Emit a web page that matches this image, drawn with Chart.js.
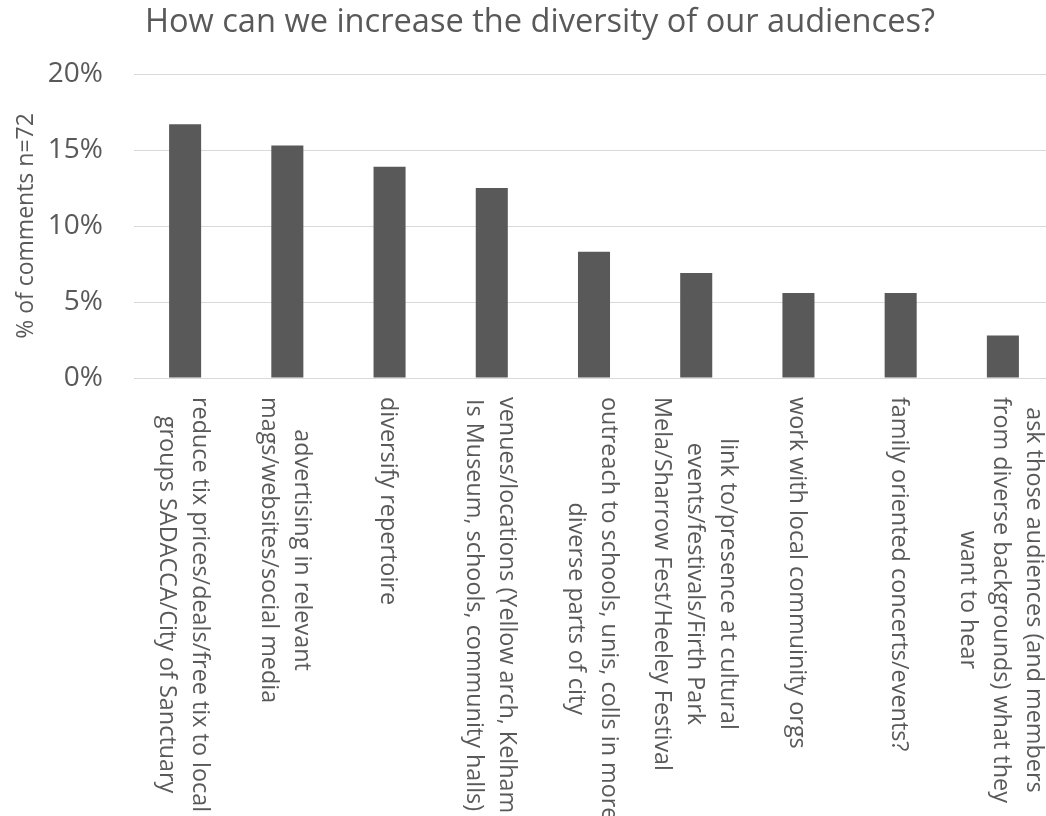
<!DOCTYPE html>
<html>
<head>
<meta charset="utf-8">
<title>How can we increase the diversity of our audiences?</title>
<script src="https://cdn.jsdelivr.net/npm/chart.js@4.4.1/dist/chart.umd.min.js"></script>
<style>
  html, body { margin: 0; padding: 0; background: #fff; overflow: hidden; }
  #wrap { width: 1060px; height: 816px; position: relative; }
</style>
</head>
<body>
<div id="wrap"><canvas id="ideas"></canvas></div>
<script>
var chartTitle = 'How can we increase the diversity of our audiences?';
var axisTitle = '% of comments n=72';

// one entry per suggestion, already broken into lines
var ideas = [
  ['reduce tix prices/deals/free tix to local', 'groups SADACCA/City of Sanctuary'],
  ['advertising in relevant', 'mags/websites/social media'],
  ['diversify repertoire'],
  ['venues/locations (Yellow arch, Kelham', 'Is Museum, schools, community halls)'],
  ['outreach to schools, unis, colls in more', 'diverse parts of city'],
  ['link to/presence at cultural', 'events/festivals/Firth Park', 'Mela/Sharrow Fest/Heeley Festival'],
  ['work with local commuinity orgs'],
  ['family oriented concerts/events?'],
  ['ask those audiences (and members', 'from diverse backgrounds) what they', 'want to hear']
];
var share = [16.7, 15.3, 13.9, 12.5, 8.3, 6.9, 5.6, 5.6, 2.8];
var yTicks = [0, 5, 10, 15, 20];

var ink = '#595959';
var gridGrey = '#d9d9d9';
var face = '"Open Sans", "Noto Sans", sans-serif';

// title and the rotated category captions are drawn by hand
var captions = {
  id: 'captions',
  afterDraw: function(chart) {
    var ctx = chart.ctx;
    var xs = chart.scales.x;
    var top = chart.chartArea.bottom + 19;
    ctx.save();
    ctx.fillStyle = ink;
    ctx.font = '32.6px ' + face;
    ctx.textAlign = 'center';
    ctx.textBaseline = 'alphabetic';
    ctx.fillText(chartTitle, 540, 32);

    ctx.font = '23.4px ' + face;
    ctx.textBaseline = 'middle';
    ideas.forEach(function(lines, i) {
      var w = 0;
      lines.forEach(function(l) { w = Math.max(w, ctx.measureText(l).width); });
      ctx.save();
      ctx.translate(xs.getPixelForValue(i), top);
      ctx.rotate(Math.PI / 2);
      lines.forEach(function(l, j) {
        ctx.fillText(l, w / 2, (j - (lines.length - 1) / 2) * 33 + 2);
      });
      ctx.restore();
    });
    ctx.restore();
  }
};

var ctx = document.getElementById('ideas');
var chart = new Chart(ctx, {
  type: 'bar',
  data: {
    labels: ideas,
    datasets: [{
      data: share,
      backgroundColor: ink,
      borderWidth: 0,
      categoryPercentage: 1,
      barPercentage: 0.3135
    }]
  },
  options: {
    responsive: true,
    maintainAspectRatio: false,
    animation: false,
    layout: { padding: { top: 74, right: 6, left: 0, bottom: 0 } },
    plugins: {
      legend: { display: false },
      title: { display: false },
      tooltip: { enabled: false }
    },
    scales: {
      x: {
        grid: { display: false },
        border: { display: false },
        ticks: { display: false },
        afterFit: function(s) { s.height = 438; }
      },
      y: {
        min: 0,
        max: 20,
        afterBuildTicks: function(s) { s.ticks = yTicks.map(function(v) { return { value: v }; }); },
        afterFit: function(s) { s.width = 134; },
        grid: { color: gridGrey, lineWidth: 1, drawTicks: false },
        border: { display: false },
        ticks: {
          color: ink,
          padding: 31,
          font: { family: face, size: 28 },
          callback: function(v) { return v + '%'; }
        },
        title: {
          display: true,
          text: axisTitle,
          color: ink,
          padding: { top: 13, bottom: 0 },
          font: { family: face, size: 23 }
        }
      }
    }
  },
  plugins: [captions]
});
</script>
</body>
</html>
